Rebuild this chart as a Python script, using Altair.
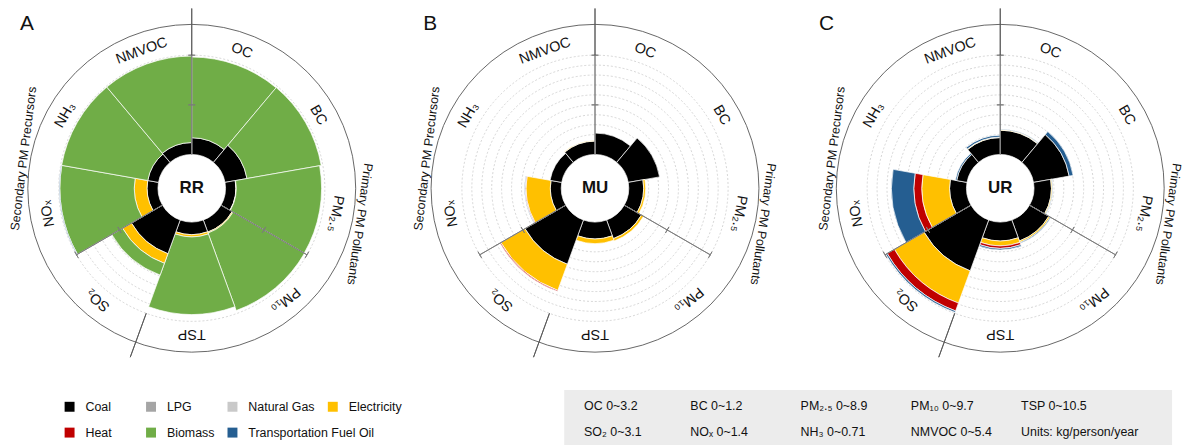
import math
import altair as alt
import pandas as pd

# ---------------- data ----------------
POLLUTANTS = ["OC", "BC", "PM2.5", "PM10", "TSP", "SO2", "NOx", "NH3", "NMVOC"]
POLL_LABELS = ["OC", "BC", "PM₂.₅", "PM₁₀", "TSP", "SO₂", "NOₓ", "NH₃", "NMVOC"]
RANGE_MAX = [3.2, 1.2, 8.9, 9.7, 10.5, 3.1, 1.4, 0.71, 5.4]
SOURCES = ["Coal", "LPG", "Natural Gas", "Electricity", "Heat", "Biomass",
           "Transportation Fuel Oil"]
SOURCE_COLORS = ["#000000", "#a5a5a5", "#c9c9c9", "#ffc000", "#c00000", "#70ad47", "#255e91"]
PANELS = ["RR", "MU", "UR"]
PANEL_LETTERS = ["A", "B", "C"]
GROUP_LABELS = ["Primary PM Pollutants", "Secondary PM Precursors"]
UNITS_TEXT = "Units: kg/person/year"

# emissions, kg/person/year, in POLLUTANTS order
RR_COAL = [0.54, 0.27, 0.93, 1.26, 1.33, 1.12, 0.154, 0.078, 0.65]
RR_LPG = [0, 0, 0, 0, 0, 0, 0, 0, 0]
RR_NG = [0, 0, 0, 0, 0, 0, 0, 0, 0]
RR_ELEC = [0, 0, 0.03, 0.10, 0.24, 0.32, 0.18, 0, 0]
RR_HEAT = [0, 0, 0, 0, 0, 0, 0, 0, 0]
RR_BIOMASS = [2.60, 0.91, 7.65, 8.05, 8.19, 0.39, 1.05, 0.625, 4.70]
RR_TRANSPORT = [0, 0, 0, 0, 0, 0, 0.01, 0, 0]

MU_COAL = [0.69, 0.384, 1.335, 1.94, 1.785, 1.47, 0.154, 0.085, 0.73]
MU_LPG = [0, 0, 0, 0, 0, 0, 0, 0, 0]
MU_NG = [0, 0, 0, 0, 0, 0, 0, 0, 0]
MU_ELEC = [0, 0, 0.18, 0.24, 0.49, 0.87, 0.343, 0, 0.03]
MU_HEAT = [0, 0, 0, 0, 0, 0.03, 0.011, 0, 0]
MU_BIOMASS = [0, 0, 0, 0, 0, 0, 0, 0, 0]
MU_TRANSPORT = [0, 0, 0, 0, 0, 0, 0.008, 0, 0]

UR_COAL = [0.784, 0.438, 1.56, 2.18, 2.0, 1.69, 0.238, 0.075, 0.92]
UR_LPG = [0, 0, 0, 0, 0, 0, 0, 0, 0]
UR_NG = [0, 0, 0, 0, 0, 0, 0, 0, 0]
UR_ELEC = [0.02, 0, 0.09, 0.15, 0.52, 1.07, 0.392, 0, 0.03]
UR_HEAT = [0, 0, 0, 0, 0.26, 0.26, 0.112, 0, 0]
UR_BIOMASS = [0, 0, 0, 0, 0, 0, 0, 0, 0]
UR_TRANSPORT = [0.02, 0.048, 0.05, 0.08, 0.16, 0.05, 0.315, 0.01, 0.10]

PANEL_DATA = {
    "RR": [RR_COAL, RR_LPG, RR_NG, RR_ELEC, RR_HEAT, RR_BIOMASS, RR_TRANSPORT],
    "MU": [MU_COAL, MU_LPG, MU_NG, MU_ELEC, MU_HEAT, MU_BIOMASS, MU_TRANSPORT],
    "UR": [UR_COAL, UR_LPG, UR_NG, UR_ELEC, UR_HEAT, UR_BIOMASS, UR_TRANSPORT],
}
GRID_LEVELS = [0.1, 0.2, 0.3, 0.4, 0.5, 0.6, 0.7, 0.8, 0.9, 1.0]
TICK_LEVELS = [0.5, 1.0]
AXIS_ANGLES = [0, 120, 240]
DIVIDER_ANGLES = [0, 200]

# ---------------- layout (pixels) ----------------
W, H = 1183, 437
PANEL_CX = [185, 591, 999]
CY = 180
R_IN, R_MAX, R_LABEL, R_OUTER, R_DIV = 34, 134, 147, 165, 181
SECTOR = 40
GROUP_THETA = [102, 280]
GROUP_R = [173, 172]
GROUP_ROT = [98, 277]
TICK_HALF_PX = 3.5
LETTER_X, LETTER_Y = [19, 425, 824], 15
LEG_COL_X = [62, 144, 226, 327]
LEG_ROW_Y = [400, 426]
LEG_TEXT_DX = 16
BOX_COL_X = [580, 687, 798, 909, 1020]
BOX_ROW_Y = [399, 425]
BOX = (560, 1172, 383, 445)
FONT = "Liberation Sans"

TH_SCALE = alt.Scale(domain=[0, 360], range=[0, 2 * math.pi])
R_SCALE = alt.Scale(type="linear", domain=[0, 1], range=[R_IN, R_MAX], zero=False, nice=False)
COLOR = alt.Color("source:N", scale=alt.Scale(domain=SOURCES, range=SOURCE_COLORS), legend=None)


def panel_layers(p):
    name = PANELS[p]
    series = PANEL_DATA[name]
    X = alt.value(PANEL_CX[p])
    Y = alt.value(CY)

    bar_rows = []
    for i, pol in enumerate(POLLUTANTS):
        cum = 0.0
        for s, src in enumerate(SOURCES):
            v = series[s][i]
            if v > 0:
                bar_rows.append({"pollutant": pol, "source": src,
                                 "t0": i * SECTOR, "t1": (i + 1) * SECTOR,
                                 "r0": cum / RANGE_MAX[i], "r1": (cum + v) / RANGE_MAX[i]})
                cum += v
    bars_df = pd.DataFrame(bar_rows)
    grid_df = pd.DataFrame([{"g": g, "t0": 0, "t1": 360} for g in GRID_LEVELS])
    circle_df = pd.DataFrame([{"t0": 0, "t1": 360}])
    axis_df = pd.DataFrame([{"a": a, "f0": 0.0, "f1": 1.0} for a in AXIS_ANGLES])
    div_df = pd.DataFrame([{"a": a} for a in DIVIDER_ANGLES])
    tick_rows = []
    for a in AXIS_ANGLES:
        for f in TICK_LEVELS:
            h = math.degrees(TICK_HALF_PX / (R_IN + f * (R_MAX - R_IN)))
            tick_rows.append({"t0": a - h, "t1": a + h, "f": f})
    tick_df = pd.DataFrame(tick_rows)
    label_df = pd.DataFrame([{"label": lab, "tc": i * SECTOR + SECTOR / 2}
                             for i, lab in enumerate(POLL_LABELS)])
    center_df = pd.DataFrame([{"name": name, "letter": PANEL_LETTERS[p]}])

    grid = alt.Chart(grid_df).mark_arc(filled=False, stroke="#c4c4c4", strokeWidth=0.7,
                                       strokeDash=[2, 2]).encode(
        x=X, y=Y,
        theta=alt.Theta("t0:Q", scale=TH_SCALE, stack=None), theta2="t1:Q",
        radius=alt.Radius("g:Q", scale=R_SCALE), radius2=alt.value(0))

    bars = alt.Chart(bars_df).mark_arc(stroke="white", strokeWidth=0.7).encode(
        x=X, y=Y,
        theta=alt.Theta("t0:Q", scale=TH_SCALE, stack=None), theta2="t1:Q",
        radius=alt.Radius("r0:Q", scale=R_SCALE), radius2="r1:Q",
        color=COLOR, detail="pollutant:N")

    axes = alt.Chart(axis_df).mark_arc(filled=False, stroke="#7a7a7a", strokeWidth=0.9).encode(
        x=X, y=Y,
        theta=alt.Theta("a:Q", scale=TH_SCALE, stack=None), theta2="a:Q",
        radius=alt.Radius("f0:Q", scale=R_SCALE), radius2="f1:Q")

    ticks = alt.Chart(tick_df).mark_arc(filled=False, stroke="#7a7a7a", strokeWidth=0.9).encode(
        x=X, y=Y,
        theta=alt.Theta("t0:Q", scale=TH_SCALE, stack=None), theta2="t1:Q",
        radius=alt.Radius("f:Q", scale=R_SCALE), radius2="f:Q")

    dividers = alt.Chart(div_df).mark_arc(filled=False, stroke="#555555", strokeWidth=0.9).encode(
        x=X, y=Y,
        theta=alt.Theta("a:Q", scale=TH_SCALE, stack=None), theta2="a:Q",
        radius=alt.value(R_DIV), radius2=alt.value(R_MAX))

    outer = alt.Chart(circle_df).mark_arc(filled=False, stroke="#555555", strokeWidth=0.9).encode(
        x=X, y=Y,
        theta=alt.Theta("t0:Q", scale=TH_SCALE, stack=None), theta2="t1:Q",
        radius=alt.value(R_OUTER), radius2=alt.value(0))

    labels = alt.Chart(label_df).mark_text(radius=R_LABEL, font=FONT, fontSize=14.5,
                                           align="center", baseline="middle",
                                           color="#111111").encode(
        x=X, y=Y,
        theta=alt.Theta("tc:Q", scale=TH_SCALE, stack=None),
        angle=alt.Angle("tc:Q", scale=None),
        text="label:N")

    groups = []
    for k in range(2):
        gdf = pd.DataFrame([{"label": GROUP_LABELS[k], "tc": GROUP_THETA[k],
                             "rot": GROUP_ROT[k]}])
        groups.append(alt.Chart(gdf).mark_text(radius=GROUP_R[k], font=FONT, fontSize=12.5,
                                               align="center", baseline="middle",
                                               color="#111111").encode(
            x=X, y=Y,
            theta=alt.Theta("tc:Q", scale=TH_SCALE, stack=None),
            angle=alt.Angle("rot:Q", scale=None),
            text="label:N"))

    centers = alt.Chart(center_df).mark_text(font=FONT, fontSize=17, fontWeight="bold",
                                             align="center", baseline="middle",
                                             color="#111111").encode(
        x=X, y=Y, text="name:N")

    letters = alt.Chart(center_df).mark_text(font=FONT, fontSize=21, align="center",
                                             baseline="middle", color="#111111").encode(
        x=alt.value(LETTER_X[p]), y=alt.value(LETTER_Y), text="letter:N")

    return [grid, bars, axes, ticks, dividers, outer, labels] + groups + [centers, letters]


leg_df = pd.DataFrame([{"source": s, "lx": LEG_COL_X[k % 4], "ly": LEG_ROW_Y[k // 4]}
                       for k, s in enumerate(SOURCES)])
box_texts = [f"{lab} 0~{mx:g}" for lab, mx in zip(POLL_LABELS, RANGE_MAX)] + [UNITS_TEXT]
box_df = pd.DataFrame([{"text": t, "bx": BOX_COL_X[k % 5], "by": BOX_ROW_Y[k // 5]}
                       for k, t in enumerate(box_texts)])
rect_df = pd.DataFrame([{"k": 0}])

leg_sq = alt.Chart(leg_df).mark_square(size=100, opacity=1).encode(
    x=alt.X("lx:Q", scale=None), y=alt.Y("ly:Q", scale=None), color=COLOR)
leg_tx = alt.Chart(leg_df).mark_text(font=FONT, fontSize=12.5, align="left",
                                     baseline="middle", dx=LEG_TEXT_DX,
                                     color="#111111").encode(
    x=alt.X("lx:Q", scale=None), y=alt.Y("ly:Q", scale=None), text="source:N")
box_rect = alt.Chart(rect_df).mark_rect(color="#ececec").encode(
    x=alt.value(BOX[0]), x2=alt.value(BOX[1]), y=alt.value(BOX[2]), y2=alt.value(BOX[3]))
box_tx = alt.Chart(box_df).mark_text(font=FONT, fontSize=12.5, align="left",
                                     baseline="middle", color="#111111").encode(
    x=alt.X("bx:Q", scale=None), y=alt.Y("by:Q", scale=None), text="text:N")

layers = []
for p in range(3):
    layers += panel_layers(p)
layers += [leg_sq, leg_tx, box_rect, box_tx]

chart = alt.layer(*layers).properties(
    width=W, height=H, autosize=alt.AutoSizeParams(type="none"), padding=0
).configure_view(stroke=None)

chart.save("out.html", embed_options={"renderer": "svg", "actions": False})
